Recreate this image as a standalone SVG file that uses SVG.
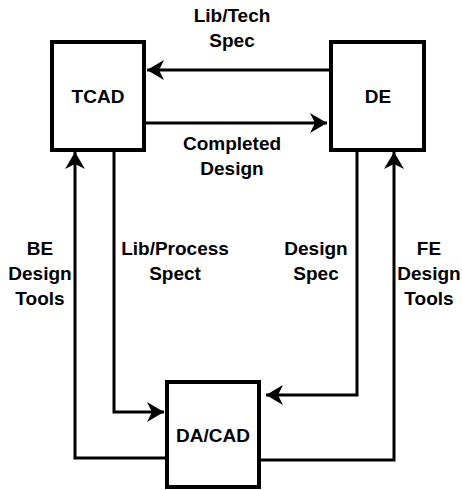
<svg xmlns="http://www.w3.org/2000/svg" width="462" height="490" viewBox="0 0 462 490">
  <style>
    .box { fill: #ffffff; stroke: #000000; stroke-width: 4; }
    .conn { fill: none; stroke: #000000; stroke-width: 3; stroke-linejoin: miter; }
    .lbl { font-family: "Liberation Sans", Arial, sans-serif; font-size: 19px; font-weight: bold; fill: #000000; text-anchor: middle; }
  </style>
  <defs>
    <marker id="arr" markerUnits="userSpaceOnUse" viewBox="-18 -11 20 22" refX="0" refY="0" markerWidth="20" markerHeight="22" orient="auto">
      <path d="M0,0 L-17,-10 L-12,0 L-17,10 Z" fill="#000000"/>
    </marker>
  </defs>
  <rect width="462" height="490" fill="#ffffff"/>
  <g id="connectors">
    <path class="conn" d="M331,70 L147,70" marker-end="url(#arr)"/>
    <path class="conn" d="M146,123 L327,123" marker-end="url(#arr)"/>
    <path class="conn" d="M167,458 L75,458 L75,152" marker-end="url(#arr)"/>
    <path class="conn" d="M114,150 L114,412 L164,412" marker-end="url(#arr)"/>
    <path class="conn" d="M357,150 L357,395 L266,395" marker-end="url(#arr)"/>
    <path class="conn" d="M259,460 L394,460 L394,152" marker-end="url(#arr)"/>
  </g>
  <g id="labels">
    <text class="lbl" x="232" y="22">Lib/Tech</text>
    <text class="lbl" x="232" y="47">Spec</text>
    <text class="lbl" x="232" y="150">Completed</text>
    <text class="lbl" x="232" y="175">Design</text>
    <text class="lbl" x="40" y="255">BE</text>
    <text class="lbl" x="40" y="280">Design</text>
    <text class="lbl" x="40" y="305">Tools</text>
    <text class="lbl" x="175" y="255">Lib/Process</text>
    <text class="lbl" x="175" y="280">Spect</text>
    <text class="lbl" x="316" y="255">Design</text>
    <text class="lbl" x="316" y="280">Spec</text>
    <text class="lbl" x="429" y="255">FE</text>
    <text class="lbl" x="429" y="280">Design</text>
    <text class="lbl" x="429" y="305">Tools</text>
  </g>
  <g id="node-tcad">
    <rect class="box" x="52" y="42" width="92" height="108"/>
    <text class="lbl" x="98" y="103">TCAD</text>
  </g>
  <g id="node-de">
    <rect class="box" x="331" y="42" width="93" height="108"/>
    <text class="lbl" x="378" y="103">DE</text>
  </g>
  <g id="node-dacad">
    <rect class="box" x="167" y="382" width="92" height="105"/>
    <text class="lbl" x="213" y="442">DA/CAD</text>
  </g>
</svg>
